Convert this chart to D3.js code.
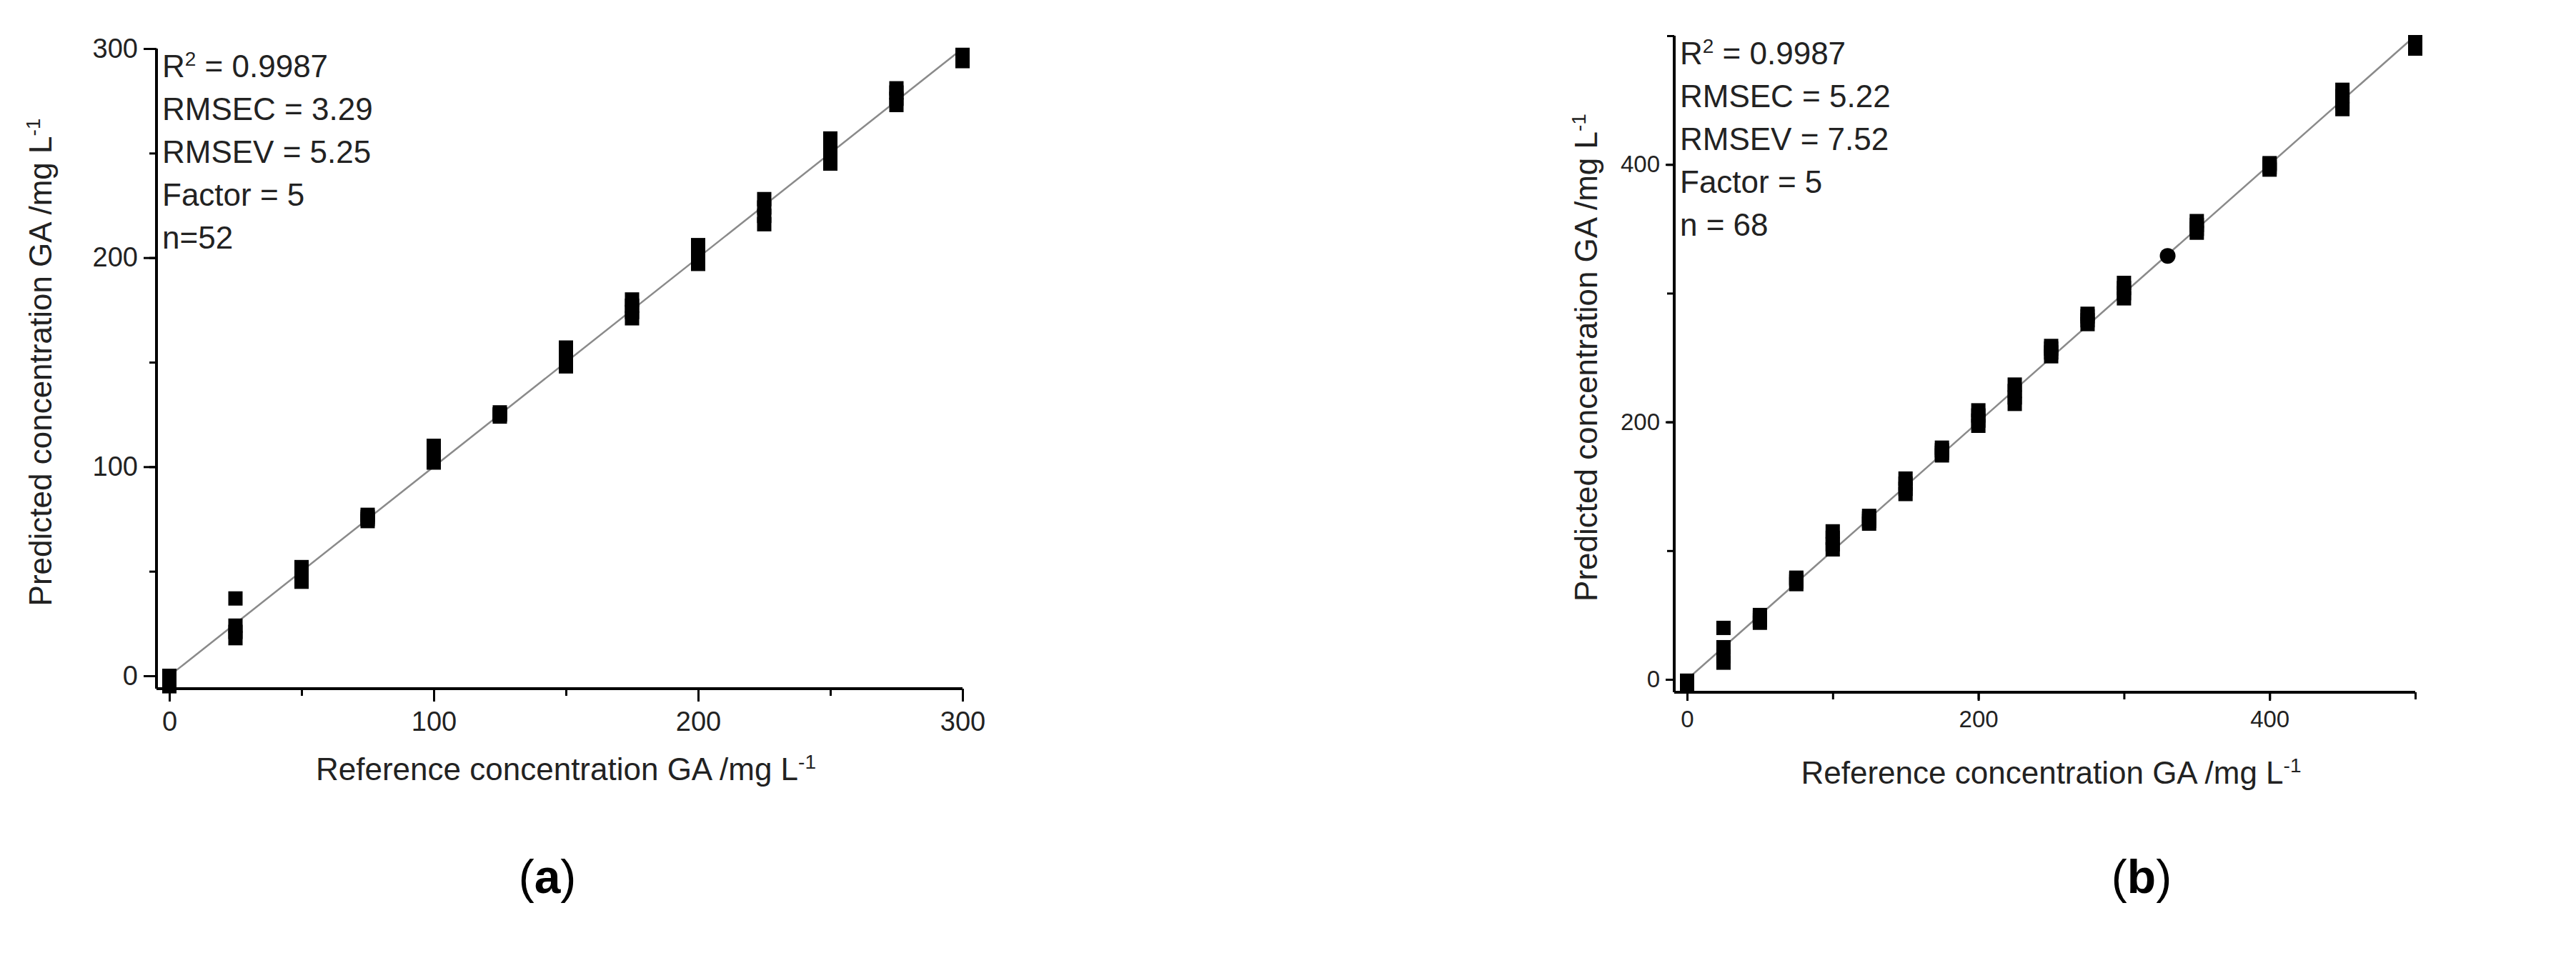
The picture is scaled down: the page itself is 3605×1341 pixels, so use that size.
<!DOCTYPE html>
<html><head><meta charset="utf-8">
<script src="https://cdn.jsdelivr.net/npm/d3@7"></script>
<style>body{margin:0;background:#fff}svg text{font-family:Arial,"Liberation Sans",sans-serif}</style>
</head><body><svg id="c" width="3605" height="1341"></svg>
<script>
// panel (a)
const refA = [0, 25, 50, 75, 100, 125, 150, 175, 200, 225, 250, 275, 300];
const predA = [
  [-5, -3, -1, 0], [18, 21, 24, 37], [45, 47, 50, 52], [74, 75, 77, 76],
  [102, 104, 107, 110], [124, 125, 126, 125], [148, 151, 154, 157], [171, 174, 177, 180],
  [197, 200, 203, 206], [216, 220, 224, 228], [245, 249, 253, 257], [273, 276, 279, 281],
  [294, 295, 296, 297]
];
const statsA = ["RMSEC = 3.29", "RMSEV = 5.25", "Factor = 5", "n=52"];
const ticksA = [0, 100, 200, 300];

// panel (b)
const refB = [0, 25, 50, 75, 100, 125, 150, 175, 200, 225, 250, 275, 300, 350, 400, 450, 500];
const predB = [
  [-4, -3, -2, -1], [13, 18, 25, 40], [44, 46, 48, 50], [74, 76, 78, 79],
  [101, 105, 110, 115], [121, 123, 125, 127], [144, 148, 152, 156], [174, 176, 178, 180],
  [197, 201, 205, 209], [214, 219, 224, 229], [251, 254, 257, 259], [276, 279, 282, 284],
  [296, 300, 304, 308], [347, 350, 353, 356], [396, 398, 400, 401], [443, 448, 453, 458],
  [490, 492, 494, 495]
];
const circleB = [[330, 329]];
const statsB = ["RMSEC = 5.22", "RMSEV = 7.52", "Factor = 5", "n = 68"];
const ticksB = [0, 200, 400];

const svg = d3.select("#c");

function panel(o) {
  const g = svg.append("g");
  const x = d3.scaleLinear().domain([0, o.max]).range([o.x0, o.x1]);
  const y = d3.scaleLinear().domain([0, o.max]).range([o.y0, o.y1]);
  const axY = o.y0 + 18, axX = o.x0 - 18;

  // minor ticks
  const xa = g.append("g").attr("transform", `translate(0,${axY})`)
    .call(d3.axisBottom(x).tickValues(d3.range(0, o.max + 1, o.minor)).tickSize(10).tickFormat(""));
  xa.select(".domain").remove();
  const ya = g.append("g").attr("transform", `translate(${axX},0)`)
    .call(d3.axisLeft(y).tickValues(d3.range(0, o.max + 1, o.minor)).tickSize(10).tickFormat(""));
  ya.select(".domain").remove();
  [xa, ya].forEach(a => a.selectAll("line").attr("stroke-width", 3));

  const xb = g.append("g").attr("transform", `translate(0,${axY})`)
    .call(d3.axisBottom(x).tickValues(o.ticks).tickSize(o.tk).tickPadding(14).tickSizeOuter(0));
  const yb = g.append("g").attr("transform", `translate(${axX},0)`)
    .call(d3.axisLeft(y).tickValues(o.ticks).tickSize(o.tk).tickPadding(8).tickSizeOuter(0));
  [xb, yb].forEach(a => {
    a.selectAll("text").attr("font-size", o.fs).attr("fill", "#222");
    a.selectAll("line").attr("stroke-width", 3);
  });
  xb.select(".domain").attr("d", `M${axX},0H${x(o.max)}`).attr("stroke-width", 4);
  yb.select(".domain").attr("d", `M0,${axY}V${y(o.max)}`).attr("stroke-width", 4);

  // identity line
  g.append("line").attr("x1", x(0)).attr("y1", y(0)).attr("x2", x(o.max)).attr("y2", y(o.max))
    .attr("stroke", "#8a8a8a").attr("stroke-width", 2.5);

  const pts = [];
  o.ref.forEach((r, i) => o.pred[i].forEach(p => pts.push([r, p])));
  g.selectAll("rect.m").data(pts).join("rect").attr("class", "m")
    .attr("x", d => x(d[0]) - 10).attr("y", d => y(d[1]) - 10)
    .attr("width", 20).attr("height", 20).attr("fill", "#000");
  if (o.circ) g.selectAll("circle.m").data(o.circ).join("circle")
    .attr("cx", d => x(d[0])).attr("cy", d => y(d[1])).attr("r", 11).attr("fill", "#000");

  // stats text
  const t = g.append("text").attr("x", axX + 8).attr("y", y(o.max) + 40).attr("font-size", 44).attr("fill", "#222");
  t.append("tspan").text("R");
  t.append("tspan").attr("dy", -16).attr("font-size", 28).text("2");
  t.append("tspan").attr("dy", 16).text(" = 0.9987");
  o.stats.forEach((s, i) => g.append("text").attr("x", axX + 8).attr("y", y(o.max) + 40 + (i + 1) * 60)
    .attr("font-size", 44).attr("fill", "#222").text(s));

  // axis titles
  const xt = g.append("text").attr("x", (o.x0 + o.x1) / 2).attr("y", axY + 128)
    .attr("text-anchor", "middle").attr("font-size", 44).attr("fill", "#222");
  xt.append("tspan").text("Reference concentration GA /mg L");
  xt.append("tspan").attr("dy", -16).attr("font-size", 28).text("-1");
  const yt = g.append("text").attr("transform", `translate(${o.ytx},${(o.y0 + y(o.max)) / 2}) rotate(-90)`)
    .attr("text-anchor", "middle").attr("font-size", 44).attr("fill", "#222");
  yt.append("tspan").text("Predicted concentration GA /mg L");
  yt.append("tspan").attr("dy", -16).attr("font-size", 28).text("-1");

  svg.append("text").attr("x", o.lx).attr("y", 1250).attr("text-anchor", "middle")
    .attr("font-family", "Liberation Serif, serif").attr("font-size", 66).attr("fill", "#000")
    .html(`(<tspan font-weight="bold">${o.lab}</tspan>)`);
}

panel({ ref: refA, pred: predA, stats: statsA, ticks: ticksA, max: 300, minor: 50, tk: 18, fs: 38,
  x0: 237, x1: 1347, y0: 946, y1: 68, ytx: 72, lx: 766, lab: "a" });
panel({ ref: refB, pred: predB, circ: circleB, stats: statsB, ticks: ticksB, max: 500, minor: 100, tk: 12, fs: 33,
  x0: 2361, x1: 3380, y0: 951, y1: 50, ytx: 2235, lx: 2997, lab: "b" });
</script></body></html>
